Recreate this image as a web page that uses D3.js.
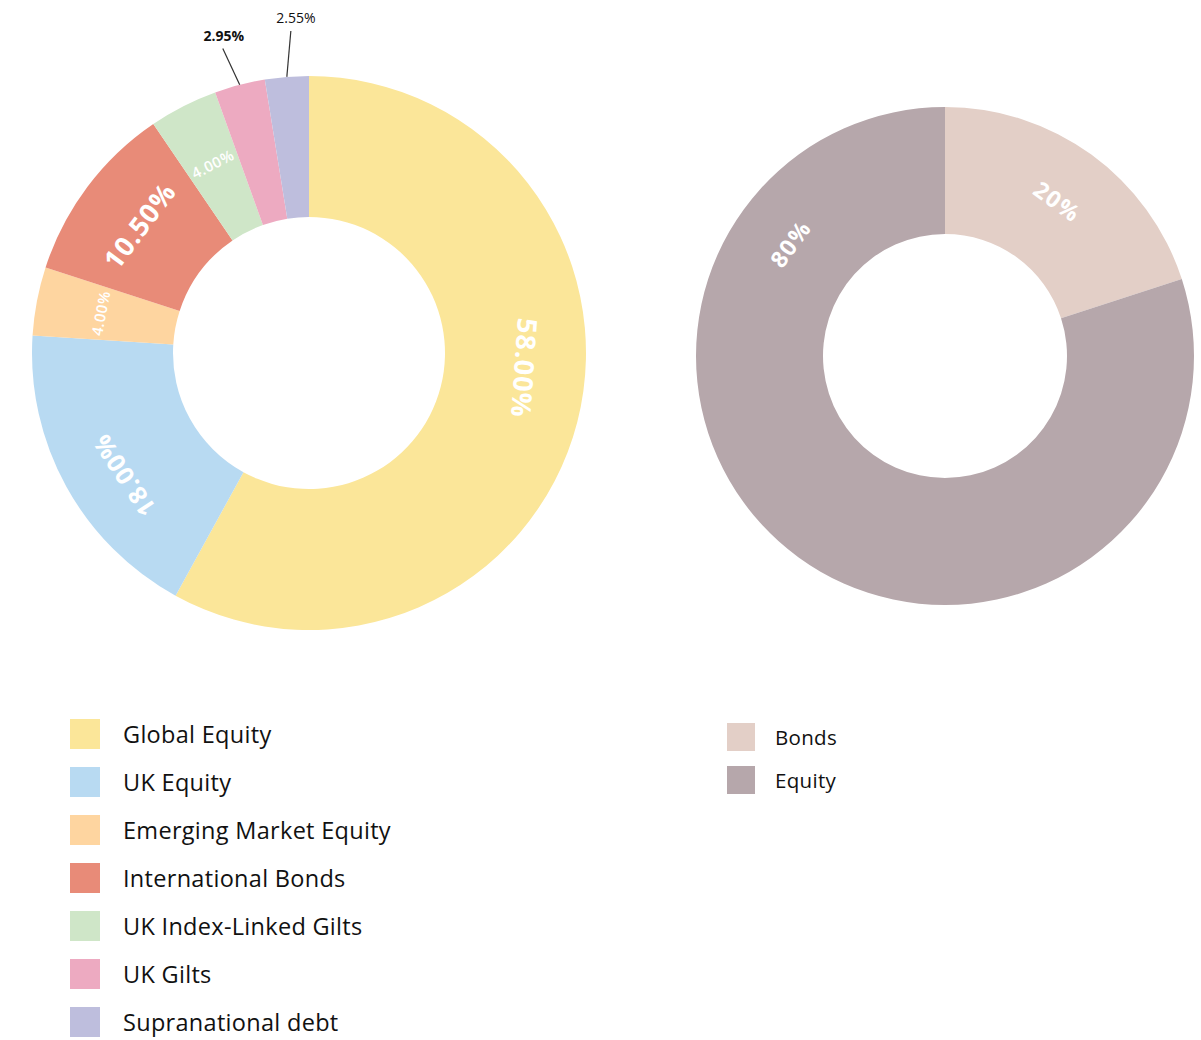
<!DOCTYPE html>
<html>
<head>
<meta charset="utf-8">
<script src="https://cdn.jsdelivr.net/npm/d3@7/dist/d3.min.js"></script>
<style>
  body { margin: 0; background: #fff; }
  text { font-family: "Open Sans", "Noto Sans", sans-serif; }
</style>
</head>
<body>
<svg id="mainsvg" width="1201" height="1040"></svg>
<script>
// left donut: asset allocation
const assetNames = ['Global Equity', 'UK Equity', 'Emerging Market Equity', 'International Bonds',
  'UK Index-Linked Gilts', 'UK Gilts', 'Supranational debt'];
const assetValues = [58.00, 18.00, 4.00, 10.50, 4.00, 2.95, 2.55];
const assetColors = ['#fbe699', '#b8daf2', '#fed5a0', '#e88b78', '#cfe6c8', '#edaac1', '#bebedd'];

// right donut: bonds vs equity
const splitNames = ['Bonds', 'Equity'];
const splitValues = [20, 80];
const splitColors = ['#e3cfc7', '#b6a7ab'];

const svg = d3.select('#mainsvg');

const pie = d3.pie().sort(null).value(d => d.value);
const toDeg = r => r * 180 / Math.PI;

function drawDonut(opts) {
  const data = opts.names.map((n, i) => ({ name: n, value: opts.values[i], color: opts.colors[i] }));
  const arcs = pie(data);
  const arc = d3.arc().innerRadius(opts.inner).outerRadius(opts.outer);
  const g = svg.append('g').attr('transform', `translate(${opts.cx}, ${opts.cy})`);

  g.selectAll('path')
    .data(arcs)
    .join('path')
    .attr('d', arc)
    .attr('fill', d => d.data.color);

  const labelR = (opts.inner + opts.outer) / 2 + 6;
  arcs.forEach((d, i) => {
    const st = opts.labelStyle(d, i);
    if (!st) return;
    let a = (d.startAngle + d.endAngle) / 2;
    if (st.angle !== undefined) a = st.angle * Math.PI / 180;
    const r = labelR + (st.dr || 0);
    const x = r * Math.sin(a);
    const y = -r * Math.cos(a);
    g.append('text')
      .attr('transform', `translate(${x}, ${y}) rotate(${toDeg(a)})`)
      .attr('text-anchor', 'middle')
      .attr('dominant-baseline', 'central')
      .attr('fill', '#fff')
      .attr('font-weight', st.weight || 700)
      .attr('font-size', st.size)
      .attr('letter-spacing', st.spacing || 1)
      .text(opts.format(d.data.value));
  });
  return { g, arcs };
}

const left = drawDonut({
  names: assetNames, values: assetValues, colors: assetColors,
  cx: 309, cy: 353, inner: 136, outer: 277,
  format: v => v.toFixed(2) + '%',
  labelStyle: (d, i) => {
    const v = d.data.value;
    if (v < 3) return null;
    if (i === 0) return { size: 27, angle: 94, dr: 4 };
    if (i === 1) return { size: 25, angle: 236.5, dr: 10 };
    if (v >= 10) return { size: 27 };
    return { size: 15, weight: 600, spacing: 0.5 };
  }
});

// outside labels for the thin slices
const leader = { 5: { tilt: -25, len: 40, bold: true }, 6: { tilt: 5, len: 46, bold: false } };
left.arcs.forEach((d, i) => {
  const L = leader[i];
  if (!L) return;
  const a = (d.startAngle + d.endAngle) / 2;
  const x0 = 277 * Math.sin(a), y0 = -277 * Math.cos(a);
  const t = L.tilt * Math.PI / 180;
  const x1 = x0 + L.len * Math.sin(t), y1 = y0 - L.len * Math.cos(t);
  left.g.append('line')
    .attr('x1', x0).attr('y1', y0).attr('x2', x1).attr('y2', y1)
    .attr('stroke', '#333').attr('stroke-width', 1.2);
  left.g.append('text')
    .attr('x', x1 + (L.bold ? 1 : 5)).attr('y', y1 - 8)
    .attr('text-anchor', 'middle')
    .attr('font-size', 14)
    .attr('font-weight', L.bold ? 700 : 400)
    .attr('fill', '#111')
    .text(d.data.value.toFixed(2) + '%');
});

drawDonut({
  names: splitNames, values: splitValues, colors: splitColors,
  cx: 945, cy: 356, inner: 122, outer: 249,
  format: v => v + '%',
  labelStyle: (d, i) => (i === 1 ? { size: 23, angle: 306, spacing: 1.5 } : { size: 23, spacing: 1.5 })
});

// legends
function drawLegend(names, colors, x, y, step, box, fontSize, textX, spacing) {
  const lg = svg.append('g').attr('transform', `translate(${x}, ${y})`);
  const row = lg.selectAll('g')
    .data(names)
    .join('g')
    .attr('transform', (d, i) => `translate(0, ${i * step})`);
  row.append('rect')
    .attr('width', box).attr('height', box)
    .attr('fill', (d, i) => colors[i]);
  row.append('text')
    .attr('x', textX)
    .attr('y', box / 2)
    .attr('dominant-baseline', 'central')
    .attr('font-size', fontSize)
    .attr('font-weight', 500)
    .attr('letter-spacing', spacing)
    .attr('fill', '#111')
    .text(d => d);
}

drawLegend(assetNames, assetColors, 70, 719, 48, 30, 23.5, 53, 0.3);
drawLegend(splitNames, splitColors, 727, 723, 43, 28, 20.5, 48, 0.3);
</script>
</body>
</html>
